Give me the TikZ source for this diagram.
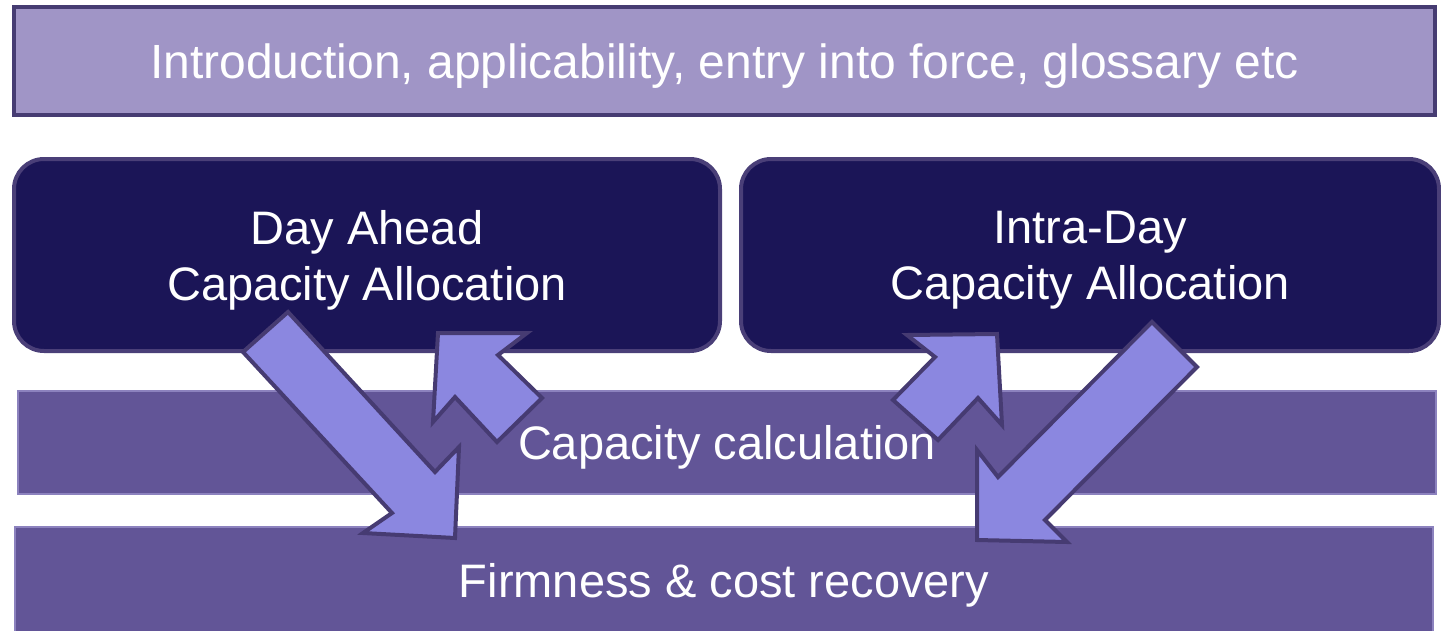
\documentclass[tikz,border=0pt]{standalone}
\usepackage{fontspec}
\setmainfont{Liberation Sans}

\definecolor{introfill}{RGB}{160,149,198}
\definecolor{introline}{RGB}{70,60,114}
\definecolor{boxfill}{RGB}{27,21,87}
\definecolor{boxline}{RGB}{74,63,120}
\definecolor{bandfill}{RGB}{98,85,151}
\definecolor{bandline}{RGB}{140,130,190}
\definecolor{arrowfill}{RGB}{139,135,224}
\definecolor{arrowline}{RGB}{70,59,114}

\begin{document}
\begin{tikzpicture}[x=1pt,y=-1pt,
  txt/.style={text=white,text depth=0pt,inner sep=0pt,font=\fontsize{47}{56}\selectfont},
  box/.style={txt,draw=boxline,line width=4pt,fill=boxfill,rounded corners=30pt,align=center},
  band/.style={txt,draw=bandline,line width=1.5pt,fill=bandfill},
  blockarrow/.style={draw=arrowline,line width=4pt,fill=arrowfill}]
\useasboundingbox (0,0) rectangle (1441,630);

\node[txt,font=\fontsize{48}{56}\selectfont,draw=introline,line width=4.5pt,fill=introfill,minimum width=1421pt,minimum height=108pt] (intro) at (724.5,61) {Introduction, applicability, entry into force, glossary etc};

\node[box,minimum width=706pt,minimum height=192pt] (dayahead) at (367,255) {Day Ahead\\Capacity Allocation};
\node[box,minimum width=698pt,minimum height=192pt] (intraday) at (1090,255) {Intra-Day\\Capacity Allocation};

\node[band,minimum width=1418pt,minimum height=103pt] (capcalc) at (727,442.5) {Capacity calculation};
\node[band,minimum width=1418pt,minimum height=106pt] (firmness) at (724,580) {Firmness \& cost recovery};

% day ahead <-> bands
\draw[blockarrow] (288,312) -- (435,472) -- (459,447) -- (455,538) -- (363,533) -- (392,513) -- (243,352) -- cycle;
\draw[blockarrow] (438,333) -- (527,333) -- (498,355) -- (542,398) -- (497,442) -- (455,397) -- (433,422) -- cycle;
% intra-day <-> bands
\draw[blockarrow] (907,335) -- (997,334) -- (1002,425) -- (978,398) -- (938,440) -- (893,400) -- (935,357) -- cycle;
\draw[blockarrow] (1152,322) -- (1197,367) -- (1045,520) -- (1067,542) -- (977,540) -- (977,450) -- (998,477) -- cycle;
\end{tikzpicture}
\end{document}
